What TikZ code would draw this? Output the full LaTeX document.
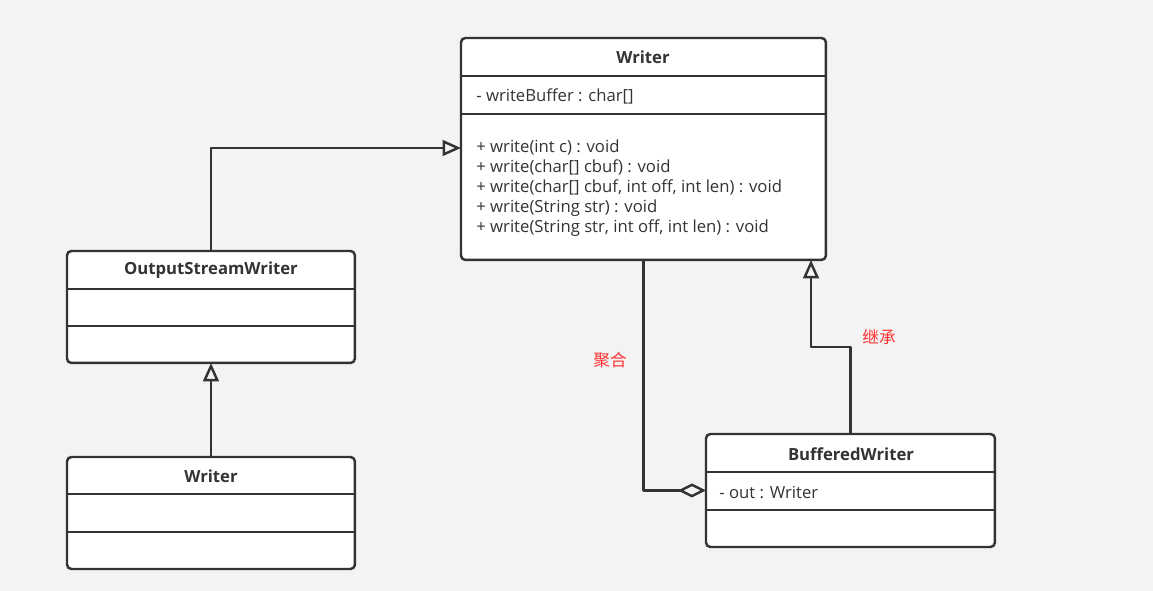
\documentclass[tikz,border=0pt]{standalone}
\usepackage{fontspec}
\setmainfont{Open Sans}
\newfontfamily\cjk{Noto Sans CJK SC}
\usetikzlibrary{arrows.meta}
\definecolor{bgc}{HTML}{F3F3F3}
\definecolor{linec}{HTML}{333333}
\definecolor{labelc}{HTML}{FF3333}
\tikzset{
  umlbox/.style={draw=linec, fill=white, line width=1.4pt, rounded corners=2.5pt, anchor=north west, inner sep=0pt, outer sep=0pt},
  divider/.style={draw=linec, line width=1.4pt},
  inherit/.style={draw=linec, line width=1.4pt, -{Triangle[open, length=10.5pt, width=9pt]}},
  aggr/.style={draw=linec, line width=1.4pt, -{Diamond[open, length=16pt, width=8pt]}},
  title/.style={font=\fontsize{9.5}{11}\selectfont\bfseries, text=linec},
  member/.style={font=\fontsize{9.5}{11}\selectfont, text=linec, anchor=west, inner sep=0pt},
  note/.style={font=\cjk\fontsize{9.5}{11}\selectfont, text=labelc}
}
\begin{document}
\begin{tikzpicture}[x=0.02cm, y=-0.02cm, line join=round]
	\fill[bgc] (0,0) rectangle (1153,591);
	\useasboundingbox (0,0) rectangle (1153,591);
	% class boxes
	\node[umlbox, minimum width=7.3cm, minimum height=4.44cm] (writer) at (461,38) {};
	\node[umlbox, minimum width=5.76cm, minimum height=2.24cm] (osw) at (67,251) {};
	\node[umlbox, minimum width=5.76cm, minimum height=2.24cm] (subwriter) at (67,457) {};
	\node[umlbox, minimum width=5.78cm, minimum height=2.26cm] (bw) at (706,434) {};
	% compartments
	\draw[divider] (461,76) -- (826,76) (461,114) -- (826,114);
	\draw[divider] (67,289) -- (355,289) (67,326) -- (355,326);
	\draw[divider] (67,494) -- (355,494) (67,532) -- (355,532);
	\draw[divider] (706,472) -- (995,472) (706,510) -- (995,510);
	% texts
	\node[title] at (643,57) {Writer};
	\node[title] at (211,270) {OutputStreamWriter};
	\node[title] at (211,476) {Writer};
	\node[title] at (851,454) {BufferedWriter};
	\node[member] at (476,96) {- writeBuffer : char[]};
	\node[member] at (719,492) {- out : Writer};
	\foreach \txt [count=\k] in {{+ write(int c) : void}, {+ write(char[] cbuf) : void},
		{+ write(char[] cbuf, int off, int len) : void}, {+ write(String str) : void},
		{+ write(String str, int off, int len) : void}}
	\node[member] at (476,{127+20.3*\k}) {\txt};
	% relations
	\coordinate (oswend) at (461,148);
	\coordinate (bend) at (811,347);
	\draw[inherit] (osw.north) |- (oswend);
	\draw[inherit] (subwriter.north) -- (osw.south);
	\draw[inherit] (bw.north) |- (bend) -- (bend |- writer.south);
	\draw[aggr] (writer.south) |- (bw.west);
	\node[note] (aggrlabel) at (610,360) {聚合};
	\node[note] (inhlabel) at (879,337) {继承};
\end{tikzpicture}
\end{document}
